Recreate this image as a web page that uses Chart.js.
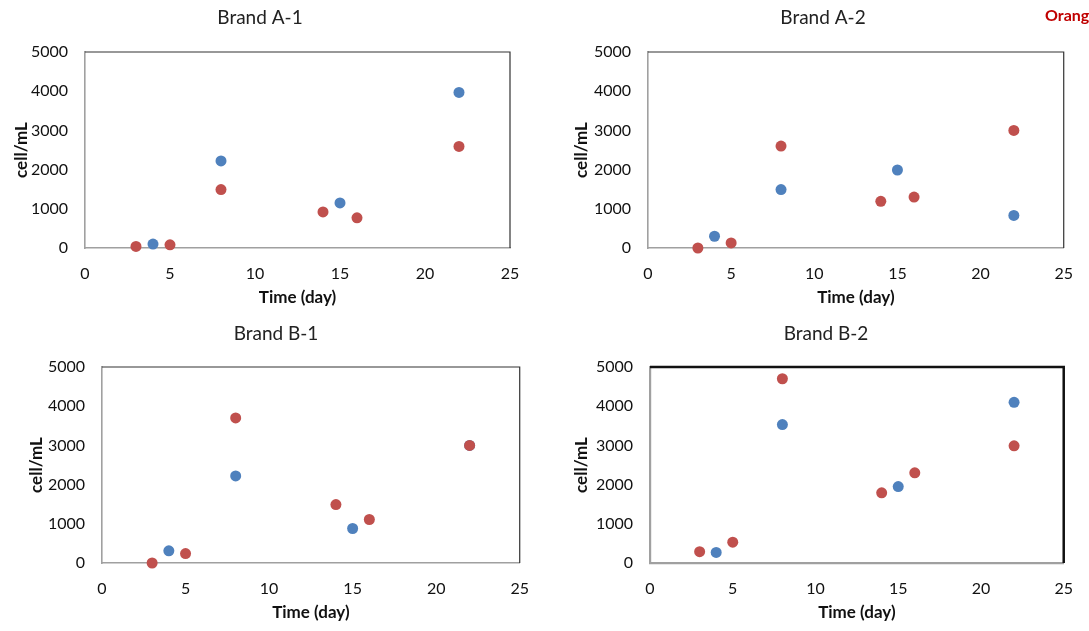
<!DOCTYPE html>
<html>
<head>
<meta charset="utf-8">
<script src="https://cdn.jsdelivr.net/npm/chart.js@4"></script>
<style>
  body { margin: 0; background: #fff; width: 1089px; height: 631px; overflow: hidden; position: relative; }
  .panel { position: absolute; }
  #tag { position: absolute; left: 1045px; top: 5px; font: bold 16px Lato, sans-serif; color: #c00000; white-space: nowrap; }
</style>
</head>
<body>
<div class="panel" style="left:0;top:0"><canvas id="a1" width="545" height="315"></canvas></div>
<div class="panel" style="left:545px;top:0"><canvas id="a2" width="544" height="315"></canvas></div>
<div class="panel" style="left:0;top:315px"><canvas id="b1" width="545" height="316"></canvas></div>
<div class="panel" style="left:545px;top:315px"><canvas id="b2" width="544" height="316"></canvas></div>
<div id="tag">Orange</div>
<script>
// sampling days
const blueDays = [4, 8, 15, 22];
const redDays = [3, 5, 8, 14, 16, 22];

// cell/mL values
const a1Blue = [100, 2220, 1150, 3970];
const a1Red = [40, 80, 1490, 920, 770, 2590];
const a2Blue = [300, 1490, 1990, 830];
const a2Red = [0, 130, 2600, 1190, 1300, 3000];
const b1Blue = [310, 2220, 880, 3000];
const b1Red = [0, 240, 3700, 1490, 1110, 3000];
const b2Blue = [270, 3530, 1950, 4100];
const b2Red = [290, 530, 4700, 1790, 2300, 2990];

const panelTitles = ["Brand A-1", "Brand A-2", "Brand B-1", "Brand B-2"];
const xTicks = [0, 5, 10, 15, 20, 25];
const yTicks = [0, 1000, 2000, 3000, 4000, 5000];

const blue = "#4f81bd";
const red = "#c0504d";
const font = "Lato, 'Open Sans', sans-serif";

function pts(xs, ys) {
    return xs.map((x, i) => ({x: x, y: ys[i]}));
}

// draws the panel title and the dark top/right frame of the plot area
const framePlugin = {
    id: 'frame',
    beforeDatasetsDraw(chart, args, opts) {
        const {ctx, chartArea} = chart;
        ctx.save();
        ctx.strokeStyle = opts.color;
        ctx.lineWidth = opts.width;
        ctx.beginPath();
        ctx.moveTo(chartArea.left, chartArea.top);
        ctx.lineTo(chartArea.right, chartArea.top);
        ctx.lineTo(chartArea.right, chartArea.bottom);
        ctx.stroke();
        ctx.fillStyle = "#222";
        ctx.font = "19px " + font;
        ctx.textAlign = "center";
        ctx.textBaseline = "middle";
        ctx.fillText(opts.title, opts.titleX, opts.titleY);
        ctx.restore();
    }
};

function makePanel(id, title, blueVals, redVals, box) {
    const canvas = document.getElementById(id);
    return new Chart(canvas, {
        type: 'scatter',
        data: {
            datasets: [
                {label: 'red', data: pts(redDays, redVals), backgroundColor: red, borderColor: red,
                 pointRadius: 5.5, pointBorderWidth: 0, clip: false},
                {label: 'blue', data: pts(blueDays, blueVals), backgroundColor: blue, borderColor: blue,
                 pointRadius: 5.5, pointBorderWidth: 0, clip: false}
            ]
        },
        options: {
            responsive: false,
            animation: false,
            events: [],
            layout: {padding: {left: 0, top: box.top, right: canvas.width - box.right, bottom: 0}},
            plugins: {
                legend: {display: false},
                tooltip: {enabled: false},
                frame: {title: title, titleX: box.titleX, titleY: box.titleY,
                        color: box.thick ? "#111" : "#333", width: box.thick ? 2.5 : 1.2}
            },
            scales: {
                x: {
                    type: 'linear', min: 0, max: 25,
                    afterBuildTicks: s => { s.ticks = xTicks.map(v => ({value: v})); },
                    afterFit: s => { s.height = canvas.height - box.bottom; },
                    grid: {display: false, drawTicks: false},
                    border: {display: true, color: "#a0a0a0", width: box.thick ? 2.2 : 1.6},
                    ticks: {padding: 16, color: "#111", font: {family: font, size: 16},
                            callback: v => String(v)},
                    title: {display: true, text: 'Time (day)', color: "#111",
                            font: {family: font, size: 17, weight: 'bold'}, padding: {top: 0, bottom: box.xtPad}}
                },
                y: {
                    type: 'linear', min: 0, max: 5000,
                    afterBuildTicks: s => { s.ticks = yTicks.map(v => ({value: v})); },
                    afterFit: s => { s.width = box.left; },
                    grid: {display: false, drawTicks: false},
                    border: {display: true, color: "#a0a0a0", width: box.thick ? 2.2 : 1.6},
                    ticks: {padding: 17, color: "#111", font: {family: font, size: 16},
                            callback: v => String(v)},
                    title: {display: true, text: 'cell/mL', color: "#111",
                            font: {family: font, size: 17, weight: 'bold'}, padding: {top: box.ytPad, bottom: 0}}
                }
            }
        },
        plugins: [framePlugin]
    });
}

makePanel("a1", panelTitles[0], a1Blue, a1Red,
    {left: 85, right: 510, top: 52, bottom: 248, titleX: 260, titleY: 18, xtPad: 7, ytPad: 11});
makePanel("a2", panelTitles[1], a2Blue, a2Red,
    {left: 103, right: 529, top: 52, bottom: 248, titleX: 278, titleY: 18, xtPad: 7, ytPad: 26});
makePanel("b1", panelTitles[2], b1Blue, b1Red,
    {left: 102, right: 524, top: 52, bottom: 248, titleX: 276, titleY: 19, xtPad: 8, ytPad: 26});
makePanel("b2", panelTitles[3], b2Blue, b2Red,
    {left: 105, right: 531, top: 52, bottom: 248, titleX: 281, titleY: 19, xtPad: 8, ytPad: 26, thick: true});
</script>
</body>
</html>
